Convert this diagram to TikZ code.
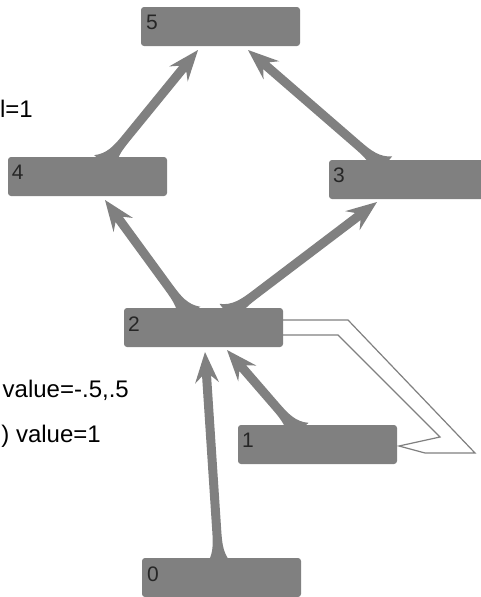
\documentclass[tikz,border=0pt]{standalone}
\usepackage{fontspec}
\setmainfont{Liberation Sans}
\usetikzlibrary{calc}
\definecolor{boxgray}{HTML}{808080}
\newcommand\tarrow[2]{%
  \fill[boxgray]
    ($(#1)!14pt!90:(#2)$)
    .. controls ($(#1)!9pt!(#2)!5pt!90:(#2)$) and ($(#1)!20pt!(#2)!4.5pt!90:(#2)$)
    .. ($(#1)!34pt!(#2)!4.5pt!90:(#2)$)
    -- ($(#2)!24pt!(#1)!4.5pt!-90:(#1)$)
    -- ($(#2)!31pt!(#1)!12pt!-90:(#1)$)
    -- (#2)
    -- ($(#2)!31pt!(#1)!12pt!90:(#1)$)
    -- ($(#2)!24pt!(#1)!4.5pt!90:(#1)$)
    -- ($(#1)!34pt!(#2)!4.5pt!-90:(#2)$)
    .. controls ($(#1)!20pt!(#2)!4.5pt!-90:(#2)$) and ($(#1)!9pt!(#2)!5pt!-90:(#2)$)
    .. ($(#1)!14pt!-90:(#2)$) -- cycle;}
\tikzset{
  box/.style={fill=boxgray, rounded corners=3pt, minimum width=159pt, minimum height=39pt, inner sep=0pt, draw=none},
  lbl/.style={anchor=base west, inner sep=0pt, text=black!85, font=\fontsize{21}{24}\selectfont},
  side/.style={anchor=base east, inner sep=0pt, text=black, font=\fontsize{24}{28}\selectfont},
  hollow/.style={draw=boxgray, line width=1.2pt, fill=white, line join=miter}
}
\begin{document}
\begin{tikzpicture}[x=1pt, y=-1pt]
\clip (0,0) rectangle (481,597);
\fill[white] (0,0) rectangle (481,597);

% named coordinates: arrow bases (inside source boxes) and tips
\coordinate (s45) at (105,164);  \coordinate (t45) at (198,50);
\coordinate (s35) at (383,167);  \coordinate (t35) at (248,50);
\coordinate (s24) at (189,315);  \coordinate (t24) at (105,200);
\coordinate (s23) at (228,315);  \coordinate (t23) at (377,202);
\coordinate (s12) at (298,432);  \coordinate (t12) at (227,350);
\coordinate (s02) at (219,565);  \coordinate (t02) at (205,352);

% hollow arrow 2 -> 1
\draw[hollow] (278,320) -- (348,320) -- (475,453) -- (425,453) -- (399,446)
  -- (440,437) -- (338,335) -- (278,335) -- cycle;

% tapered arrows
\tarrow{s45}{t45}
\tarrow{s35}{t35}
\tarrow{s24}{t24}
\tarrow{s23}{t23}
\tarrow{s12}{t12}
\tarrow{s02}{t02}

% boxes
\node[box] (b5) at (220.5,26.5) {};
\node[box] (b4) at (87.5,176.5) {};
\node[box] (b3) at (408.5,179.5) {};
\node[box] (b2) at (203.5,327.5) {};
\node[box] (b1) at (317.5,444.5) {};
\node[box] (b0) at (221.5,577.5) {};

\node[lbl] (l5) at ($(b5.north west)+(5,23)$) {5};
\node[lbl] (l4) at ($(b4.north west)+(4,23)$) {4};
\node[lbl] (l3) at ($(b3.north west)+(4,23)$) {3};
\node[lbl] (l2) at ($(b2.north west)+(4,24)$) {2};
\node[lbl] (l1) at ($(b1.north west)+(4,23)$) {1};
\node[lbl] (l0) at ($(b0.north west)+(5,24)$) {0};

% side texts
\node[side] (txa) at (33,117) {l=1};
\node[side] (txb) at (129,397) {value=-.5,.5};
\node[side] (txc) at (101,442) {) value=1};
\end{tikzpicture}
\end{document}
